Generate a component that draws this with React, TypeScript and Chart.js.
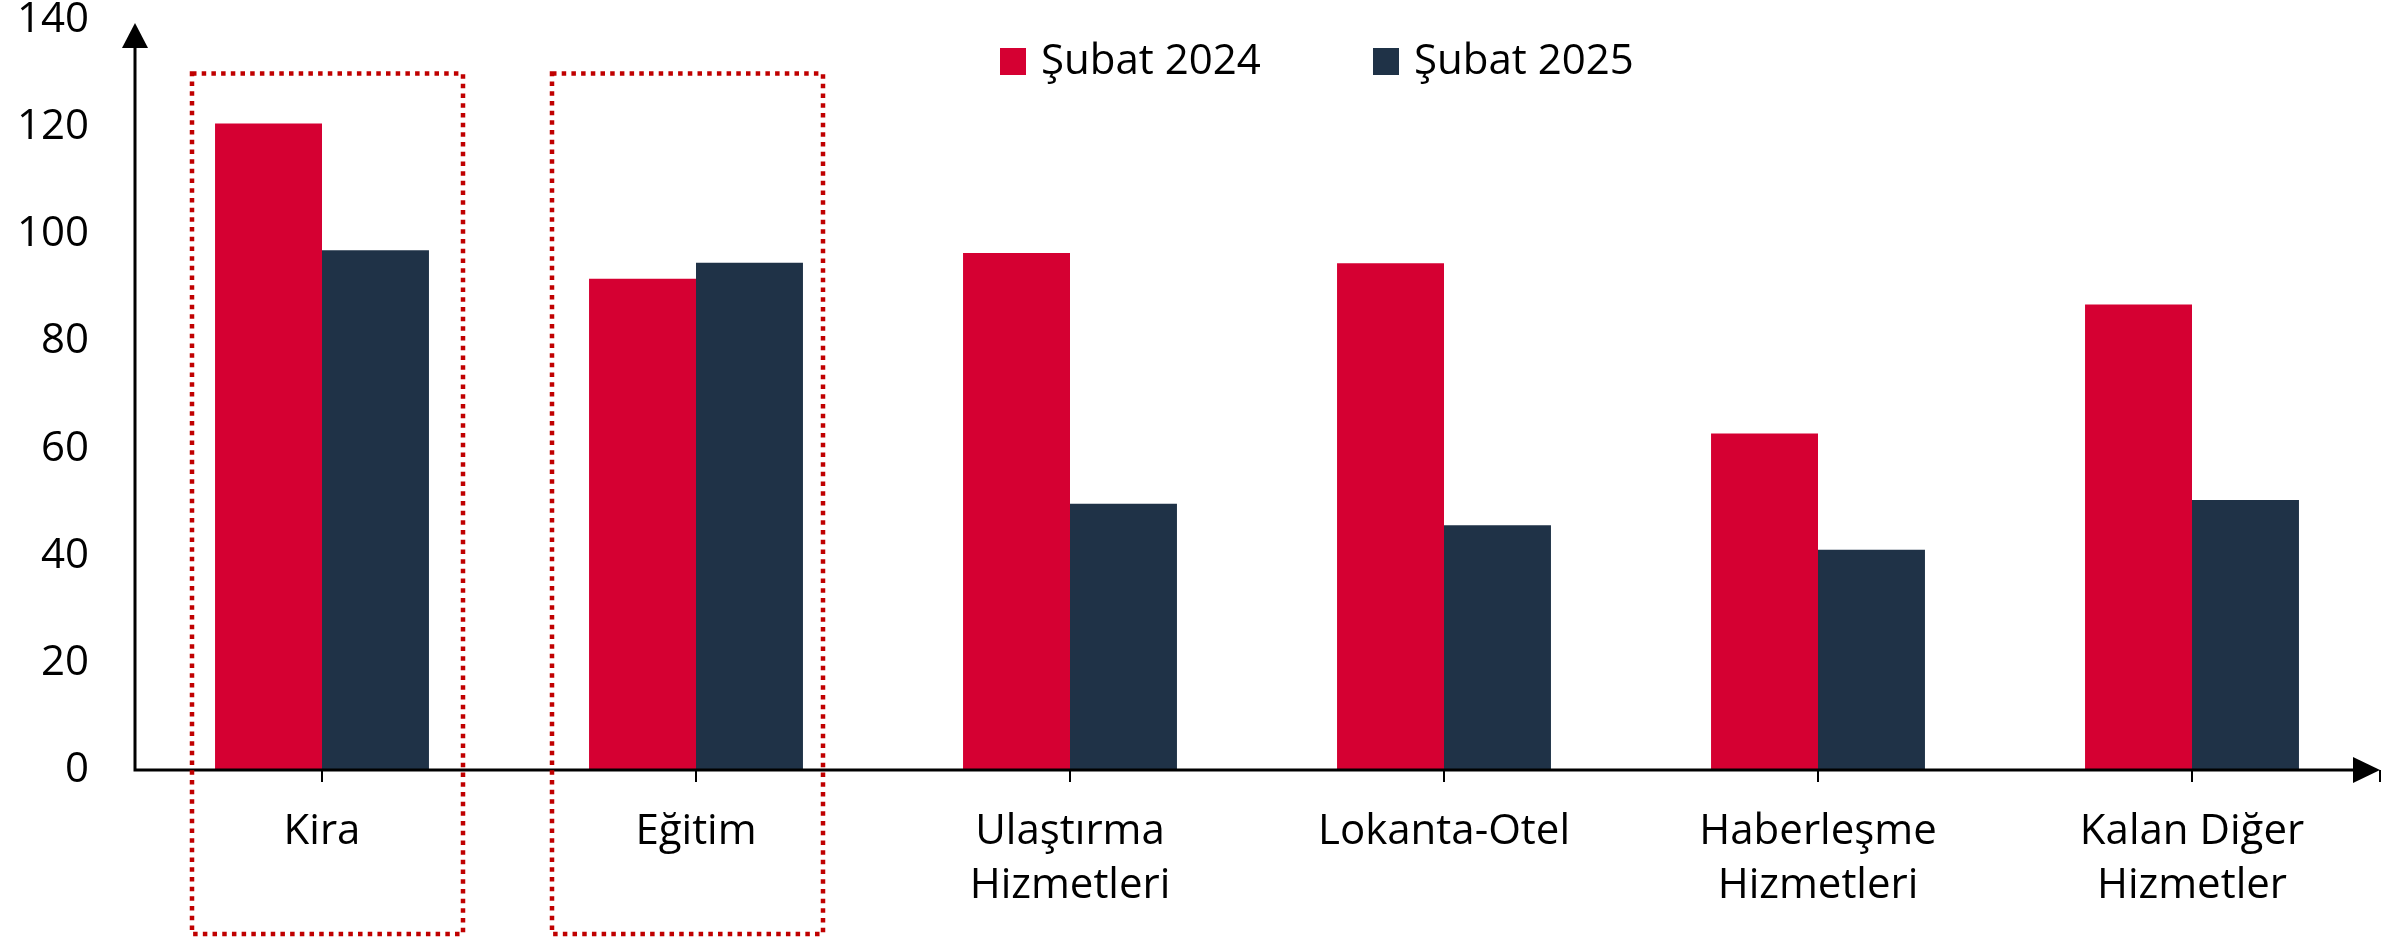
import React, { useEffect, useRef } from "react";
import { Chart, registerables } from "chart.js";

Chart.register(...registerables);

const categories: (string | string[])[] = [
  "Kira",
  "Eğitim",
  ["Ulaştırma", "Hizmetleri"],
  "Lokanta-Otel",
  ["Haberleşme", "Hizmetleri"],
  ["Kalan Diğer", "Hizmetler"],
];
const seriesNames = ["Şubat 2024", "Şubat 2025"];
const feb2024 = [120.7, 91.7, 96.5, 94.6, 62.8, 86.9];
const feb2025 = [97.0, 94.7, 49.7, 45.7, 41.1, 50.4];
const highlighted = [0, 1];
const yTicks = [0, 20, 40, 60, 80, 100, 120, 140];

const RED = "#D50032";
const NAVY = "#1F3247";
const FONT = '"Open Sans", "Noto Sans", sans-serif';

const overlayPlugin = {
  id: "overlay",
  afterDraw(chart: any) {
    const { ctx, chartArea, scales } = chart;
    const xs = scales.x;
    const ys = scales.y;
    const x0 = chartArea.left;
    const y0 = ys.getPixelForValue(0);
    ctx.save();
    // axes
    ctx.strokeStyle = "#000";
    ctx.fillStyle = "#000";
    ctx.lineWidth = 3;
    ctx.beginPath();
    ctx.moveTo(x0, y0 + 1.5);
    ctx.lineTo(x0, chartArea.top + 28);
    ctx.moveTo(x0 - 1.5, y0);
    ctx.lineTo(chartArea.right - 26, y0);
    ctx.stroke();
    // y arrow
    ctx.beginPath();
    ctx.moveTo(x0, chartArea.top + 3);
    ctx.lineTo(x0 - 13, chartArea.top + 28);
    ctx.lineTo(x0 + 13, chartArea.top + 28);
    ctx.closePath();
    ctx.fill();
    // x arrow
    ctx.beginPath();
    ctx.moveTo(chartArea.right + 1, y0);
    ctx.lineTo(chartArea.right - 26, y0 - 13);
    ctx.lineTo(chartArea.right - 26, y0 + 13);
    ctx.closePath();
    ctx.fill();
    ctx.lineWidth = 2;
    ctx.beginPath();
    ctx.moveTo(chartArea.right + 1, y0);
    ctx.lineTo(chartArea.right + 1, y0 + 12);
    ctx.stroke();

    // dotted highlight boxes
    const offsets = [5.5, -8.5];
    ctx.strokeStyle = "#C00000";
    ctx.lineWidth = 4.5;
    ctx.setLineDash([4.5, 5.2]);
    highlighted.forEach((idx, k) => {
      const cx = xs.getPixelForValue(idx) + (offsets[k] || 0);
      const left = cx - 135.5;
      const top = ys.getPixelForValue(130);
      const bottom = chart.height - 7;
      ctx.strokeRect(left, top, 271, bottom - top);
    });
    ctx.setLineDash([]);

    // legend
    ctx.font = `42px ${FONT}`;
    ctx.textBaseline = "middle";
    ctx.textAlign = "left";
    chart.data.datasets.forEach((ds: any, i: number) => {
      const lx = chartArea.left + 865 + i * 373;
      ctx.fillStyle = ds.backgroundColor;
      ctx.fillRect(lx, 48, 26, 27);
      ctx.fillStyle = "#000";
      ctx.fillText(ds.label, lx + 41, 62);
    });
    ctx.restore();
  },
};

export default function App() {
  const ref = useRef<HTMLCanvasElement | null>(null);
  useEffect(() => {
    if (!ref.current) return;
    const chart = new Chart(ref.current, {
      type: "bar",
      data: {
        labels: categories,
        datasets: [
          { label: seriesNames[0], data: feb2024, backgroundColor: RED },
          { label: seriesNames[1], data: feb2025, backgroundColor: NAVY },
        ],
      },
      options: {
        animation: false,
        responsive: false,
        devicePixelRatio: 1,
        layout: { padding: { top: 20, right: 26, left: 0, bottom: 0 } },
        plugins: { legend: { display: false }, tooltip: { enabled: false } },
        datasets: { bar: { categoryPercentage: 0.572, barPercentage: 1 } },
        scales: {
          x: {
            offset: true,
            border: { display: false },
            grid: {
              display: true,
              drawOnChartArea: false,
              drawTicks: true,
              tickLength: 12,
              offset: false,
              color: "#000",
              lineWidth: 2,
            },
            ticks: {
              color: "#000",
              padding: 23,
              font: { family: FONT, size: 42, lineHeight: 1.286 },
              maxRotation: 0,
              autoSkip: false,
            },
            afterFit: (s: any) => {
              s.height = 171;
              s.paddingLeft = 0;
              s.paddingRight = 0;
            },
          },
          y: {
            min: 0,
            max: 140,
            border: { display: false },
            grid: { display: false, drawTicks: false },
            afterBuildTicks: (s: any) => {
              s.ticks = yTicks.map((v) => ({ value: v }));
            },
            ticks: {
              color: "#000",
              padding: 46,
              font: { family: FONT, size: 42 },
            },
            afterFit: (s: any) => {
              s.width = 135;
              s.paddingTop = 0;
              s.paddingBottom = 0;
            },
          },
        },
      },
      plugins: [overlayPlugin],
    });
    return () => chart.destroy();
  }, []);
  return (
    <div style={{ position: "fixed", left: 0, top: 0, width: 2405, height: 941, background: "#fff" }}>
      <canvas ref={ref} width={2405} height={941} style={{ width: 2405, height: 941, display: "block" }} />
    </div>
  );
}
